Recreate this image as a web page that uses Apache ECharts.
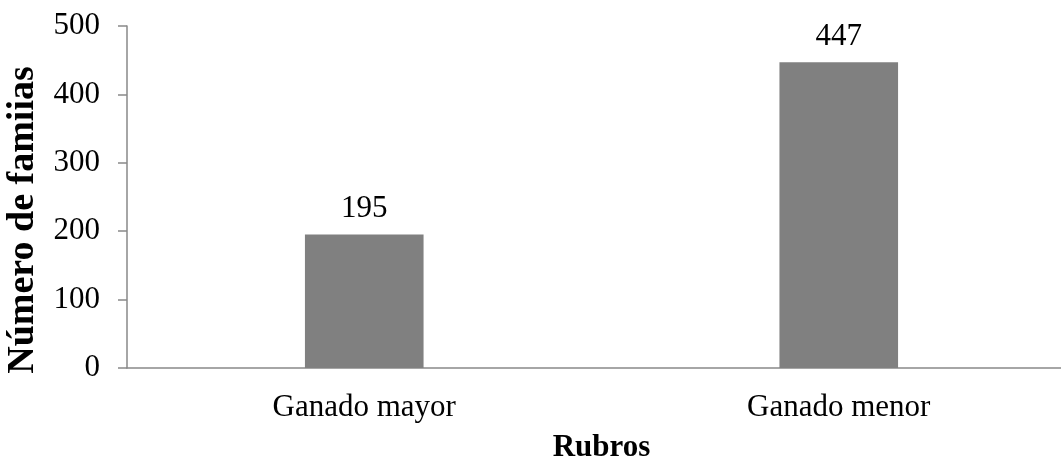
<!DOCTYPE html>
<html>
<head>
<meta charset="utf-8">
<style>html,body{margin:0;padding:0;background:#fff;}#c{width:1061px;height:462px;}</style>
<script src="https://cdn.jsdelivr.net/npm/echarts@6/dist/echarts.min.js"></script>
</head>
<body>
<div id="c"></div>
<script>
var categories = ['Ganado mayor', 'Ganado menor'];
var values = [195, 447];
var yTicks = [0, 100, 200, 300, 400, 500];
var xTitle = 'Rubros';
var yTitle = 'Número de famiias';

var font = '"Liberation Serif", "Times New Roman", serif';
var chart = echarts.init(document.getElementById('c'));
chart.setOption({
  animation: false,
  backgroundColor: '#fff',
  grid: {left: 127, top: 26, width: 949, height: 342, containLabel: false, outerBoundsMode: 'none'},
  xAxis: {
    type: 'category',
    data: categories,
    name: xTitle,
    nameLocation: 'middle',
    nameGap: 64,
    nameTextStyle: {fontFamily: font, fontSize: 31, fontWeight: 'bold', color: '#000'},
    axisLine: {lineStyle: {color: '#898989', width: 1.5}},
    axisTick: {show: false},
    axisLabel: {fontFamily: font, fontSize: 31, color: '#000', margin: 24}
  },
  yAxis: {
    type: 'value',
    min: yTicks[0],
    max: yTicks[yTicks.length - 1],
    interval: 100,
    name: yTitle,
    nameLocation: 'middle',
    nameGap: 85,
    nameTextStyle: {fontFamily: font, fontSize: 38, fontWeight: 'bold', color: '#000', padding: [0, 46, 0, 0]},
    axisLine: {show: true, lineStyle: {color: '#898989', width: 1.5}},
    axisTick: {show: true, length: 9, inside: false, lineStyle: {color: '#898989', width: 1.5}},
    splitLine: {show: false},
    axisLabel: {fontFamily: font, fontSize: 31, color: '#000', margin: 27}
  },
  series: [{
    type: 'bar',
    data: values,
    barWidth: '25%',
    itemStyle: {color: '#808080'},
    label: {show: true, position: 'top', distance: 10, fontFamily: font, fontSize: 31, color: '#000'}
  }]
});
</script>
</body>
</html>
